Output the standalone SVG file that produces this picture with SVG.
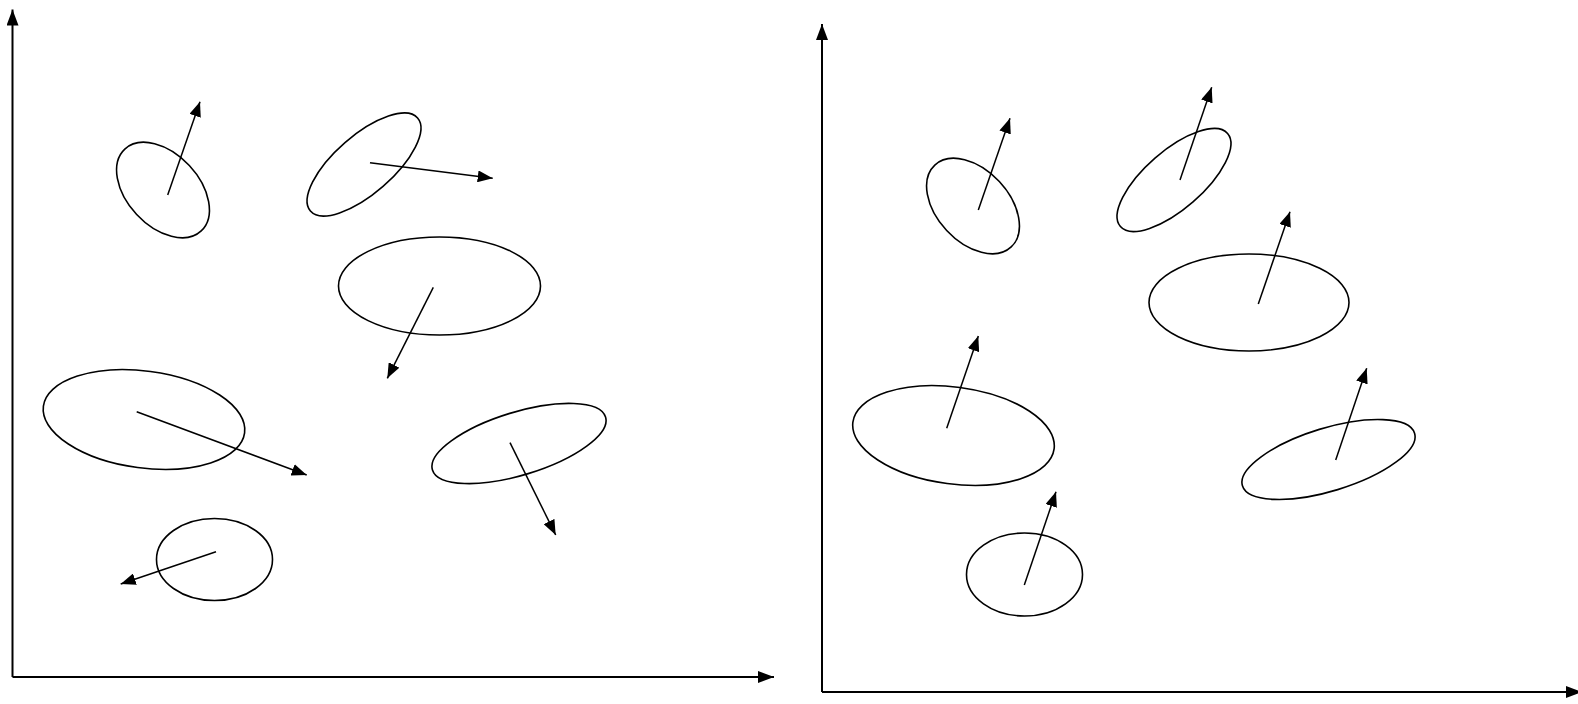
<svg xmlns="http://www.w3.org/2000/svg" width="1578" height="704" viewBox="0 0 1578 704">
<defs>
<style>
.axis{stroke:#000;stroke-width:2;fill:none}
.ell{stroke:#000;stroke-width:1.6;fill:none}
.vec{stroke:#000;stroke-width:1.5;fill:none}
</style>
<marker id="ah" viewBox="0 0 15 12" markerUnits="userSpaceOnUse" markerWidth="15" markerHeight="12" refX="15" refY="6" orient="auto">
<path d="M0,0 L15,6 L0,12 Z" fill="#000"/>
</marker>
<marker id="axh" viewBox="0 0 16 12" markerUnits="userSpaceOnUse" markerWidth="16" markerHeight="12" refX="16" refY="6" orient="auto">
<path d="M0,0 L16,6 L0,12 Z" fill="#000"/>
</marker>
</defs>
<rect width="1578" height="704" fill="#fff"/>
<g id="axes">
<path class="axis" d="M12.5,677 L12.5,9.5" marker-end="url(#axh)"/>
<path class="axis" d="M12.5,677 L774,677" marker-end="url(#axh)"/>
<path class="axis" d="M822,692 L822,24" marker-end="url(#axh)"/>
<path class="axis" d="M822,692 L1582,692" marker-end="url(#axh)"/>
</g>
<g id="nodes">
<g id="left-a"><ellipse class="ell" cx="163" cy="190" rx="56" ry="36" transform="rotate(47 163 190)"/></g>
<g id="left-b"><ellipse class="ell" cx="364" cy="164.5" rx="71" ry="29" transform="rotate(-41 364 164.5)"/></g>
<g id="left-c"><ellipse class="ell" cx="439.5" cy="286" rx="101" ry="49"/></g>
<g id="left-d"><ellipse class="ell" cx="144" cy="419.5" rx="101.5" ry="48.5" transform="rotate(7.6 144 419.5)"/></g>
<g id="left-e"><ellipse class="ell" cx="519" cy="443.5" rx="90.5" ry="31.5" transform="rotate(-17 519 443.5)"/></g>
<g id="left-f"><ellipse class="ell" cx="214.5" cy="559.5" rx="58" ry="41"/></g>
<g id="right-g"><ellipse class="ell" cx="973" cy="206" rx="56" ry="36" transform="rotate(47 973 206)"/></g>
<g id="right-h"><ellipse class="ell" cx="1174" cy="180" rx="71" ry="29" transform="rotate(-41 1174 180)"/></g>
<g id="right-i"><ellipse class="ell" cx="1249" cy="302.5" rx="100" ry="48.5"/></g>
<g id="right-j"><ellipse class="ell" cx="953.5" cy="435.5" rx="101.5" ry="48.5" transform="rotate(7.6 953.5 435.5)"/></g>
<g id="right-k"><ellipse class="ell" cx="1328.5" cy="459.5" rx="90" ry="31.5" transform="rotate(-17 1328.5 459.5)"/></g>
<g id="right-l"><ellipse class="ell" cx="1024.5" cy="574.5" rx="58" ry="41.5"/></g>
</g>
<g id="connectors">
<path class="vec" d="M167.7,195 L200,101.7" marker-end="url(#ah)"/>
<path class="vec" d="M370,162.7 L492.7,178.3" marker-end="url(#ah)"/>
<path class="vec" d="M433.3,287.3 L387.3,378.3" marker-end="url(#ah)"/>
<path class="vec" d="M136.7,411.7 L306.7,475" marker-end="url(#ah)"/>
<path class="vec" d="M510,442.7 L555.7,535" marker-end="url(#ah)"/>
<path class="vec" d="M216,551.7 L120.7,584" marker-end="url(#ah)"/>
<path class="vec" d="M978.3,210 L1010,118.3" marker-end="url(#ah)"/>
<path class="vec" d="M1180,180 L1211.7,87.3" marker-end="url(#ah)"/>
<path class="vec" d="M1258.3,304 L1290,211.7" marker-end="url(#ah)"/>
<path class="vec" d="M946.7,428.3 L978.3,336" marker-end="url(#ah)"/>
<path class="vec" d="M1335.7,460 L1366.7,368.3" marker-end="url(#ah)"/>
<path class="vec" d="M1024.3,585 L1056,491.7" marker-end="url(#ah)"/>
</g>
</svg>
